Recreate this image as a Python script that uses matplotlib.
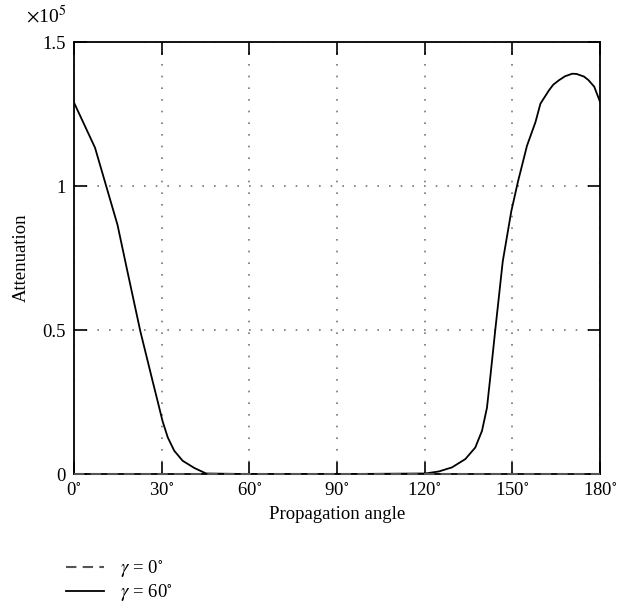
import matplotlib
matplotlib.use("Agg")
import matplotlib.pyplot as plt

plt.rcParams['font.family'] = ['Liberation Serif', 'DejaVu Serif']
plt.rcParams['mathtext.fontset'] = 'stix'

# propagation angle (deg) and attenuation (x1e5)
ang60 = [0, 7.2, 14.9, 18.3, 22.7, 26.9, 28.6, 30.3, 32.1, 34.3, 37.2, 41.2, 45.2,
         60, 90, 120.2, 124.8, 129.3, 133.9, 137.3, 139.6, 141.3, 142.3, 144.1,
         146.7, 149.6, 151.9, 155, 157.9, 159.6, 162.5, 164, 165.9, 168, 170.5,
         172, 174.5, 176, 178.0, 180]
att60 = [1.29, 1.133, 0.865, 0.703, 0.496, 0.323, 0.254, 0.184, 0.127, 0.081,
         0.046, 0.021, 0.002, 0, 0, 0.002, 0.009, 0.023, 0.052, 0.092, 0.150,
         0.230, 0.323, 0.496, 0.738, 0.911, 1.015, 1.14, 1.222, 1.286, 1.332,
         1.352, 1.367, 1.381, 1.39, 1.389, 1.38, 1.368, 1.345, 1.292]
att60 = [v * 1e5 for v in att60]
ang0 = [0, 180]
att0 = [0, 0]

xticks = [0, 30, 60, 90, 120, 150, 180]
yticks = [0, 0.5e5, 1e5, 1.5e5]
ytick_labels = ['0', '0.5', '1', '1.5']

fig = plt.figure(figsize=(6.29, 6.07), dpi=100)
ax = fig.add_axes([0.1176, 0.219, 0.8364, 0.7118])

l0, = ax.plot(ang0, att0, color='#555555', lw=1.5, ls=(0, (5, 3)),
              label=r'$\gamma$ = 0$^{\circ}$', clip_on=False, zorder=5)
l1, = ax.plot(ang60, att60, color='black', lw=1.3,
              label=r'$\gamma$ = 60$^{\circ}$')

ax.set_xlim(0, 180)
ax.set_ylim(0, 1.5e5)
ax.set_xticks(xticks)
ax.set_xticklabels([r'%d$^{\circ}$' % t for t in xticks])
ax.set_yticks(yticks)
ax.set_yticklabels(ytick_labels)
ax.tick_params(direction='in', length=9, width=1.2, top=True, right=True,
               labelsize=13.5, pad=6)
ax.grid(True, color='#777777', ls=(0, (1, 6)), lw=1.2)
for s in ax.spines.values():
    s.set_linewidth(1.3)

ax.set_xlabel('Propagation angle', fontsize=13.5, labelpad=5)
ax.set_ylabel('Attenuation', fontsize=13.5, labelpad=9)
fig.text(0.042, 0.974, r'$\times$10$^5$', fontsize=14, va='center', ha='left')

fig.legend(handles=[l0, l1], loc='upper left', bbox_to_anchor=(0.105, 0.08),
           frameon=False, fontsize=13.5, handlelength=2.0, borderpad=0,
           borderaxespad=0, labelspacing=0.15, handletextpad=0.9)

fig.savefig('out.png', dpi=100)
